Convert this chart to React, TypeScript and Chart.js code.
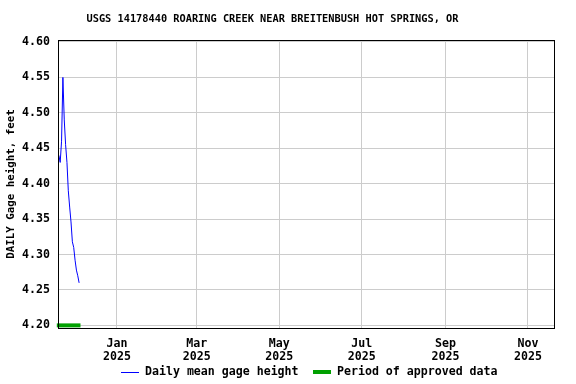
import React, { useEffect, useRef } from "react";
import { Chart, registerables } from "chart.js";

Chart.register(...registerables);

const TITLE = "USGS 14178440 ROARING CREEK NEAR BREITENBUSH HOT SPRINGS, OR";
const Y_TITLE = "DAILY Gage height, feet";
const SERIES_LABEL = "Daily mean gage height";
const APPROVED_LABEL = "Period of approved data";

const dates = [
  "2024-11-19", "2024-11-20", "2024-11-21", "2024-11-22", "2024-11-23", "2024-11-24",
  "2024-11-25", "2024-11-26", "2024-11-27", "2024-11-28", "2024-11-29", "2024-11-30",
  "2024-12-01", "2024-12-02", "2024-12-03", "2024-12-04",
];
const gageHeight = [
  4.44, 4.43, 4.46, 4.55, 4.49, 4.455, 4.43, 4.39, 4.367, 4.346, 4.318, 4.31, 4.292,
  4.278, 4.27, 4.26,
];
const approvedStart = "2024-11-17T12:00";
const approvedEnd = "2024-12-05T00:00";
const approvedLevel = 4.2;

const xTickDates = ["2025-01-01", "2025-03-01", "2025-05-01", "2025-07-01", "2025-09-01", "2025-11-01"];
const xTickLabels = [["Jan", "2025"], ["Mar", "2025"], ["May", "2025"], ["Jul", "2025"], ["Sep", "2025"], ["Nov", "2025"]];
const yTicks = [4.2, 4.25, 4.3, 4.35, 4.4, 4.45, 4.5, 4.55, 4.6];
const xMin = "2024-11-18T09:00";
const xMax = "2025-11-20T06:00";
const yMin = 4.1963;
const yMax = 4.6028;

const t = (s: string) => new Date(s.length === 10 ? s + "T00:00:00Z" : s + ":00Z").getTime();

const FONT = "'DejaVu Sans Mono', monospace";

export default function App() {
  const ref = useRef<HTMLCanvasElement>(null);
  useEffect(() => {
    if (!ref.current) return;
    const framePlugin = {
      id: "frameAndText",
      afterDraw(chart: any) {
        const { ctx, chartArea } = chart;
        ctx.save();
        ctx.strokeStyle = "#000";
        ctx.lineWidth = 1;
        ctx.strokeRect(
          Math.round(chartArea.left) + 0.5,
          Math.round(chartArea.top) + 0.5,
          Math.round(chartArea.right - chartArea.left),
          Math.round(chartArea.bottom - chartArea.top)
        );
        ctx.fillStyle = "#000";
        ctx.textBaseline = "middle";
        ctx.textAlign = "center";
        ctx.font = `bold 10.3px ${FONT}`;
        ctx.fillText(TITLE, 272.5, 19);
        ctx.save();
        ctx.translate(11, 184);
        ctx.rotate(-Math.PI / 2);
        ctx.font = `bold 10.8px ${FONT}`;
        ctx.fillText(Y_TITLE, 0, 0);
        ctx.restore();
        // legend
        ctx.strokeStyle = "#0000ff";
        ctx.lineWidth = 1;
        ctx.beginPath();
        ctx.moveTo(121, 372.5);
        ctx.lineTo(139, 372.5);
        ctx.stroke();
        ctx.fillStyle = "#00a000";
        ctx.fillRect(313, 370, 18, 4);
        ctx.fillStyle = "#000";
        ctx.textAlign = "left";
        ctx.font = `bold 11.6px ${FONT}`;
        ctx.fillText(SERIES_LABEL, 145, 372);
        ctx.fillText(APPROVED_LABEL, 337, 372);
        ctx.restore();
      },
    };
    const chart = new Chart(ref.current, {
      type: "line",
      data: {
        datasets: [
          {
            label: SERIES_LABEL,
            data: dates.map((d, i) => ({ x: t(d), y: gageHeight[i] })),
            borderColor: "#0000ff",
            borderWidth: 1,
            pointRadius: 0,
            tension: 0,
          },
          {
            label: APPROVED_LABEL,
            data: [
              { x: t(approvedStart), y: approvedLevel },
              { x: t(approvedEnd), y: approvedLevel },
            ],
            borderColor: "#00a000",
            borderWidth: 4,
            borderCapStyle: "butt",
            pointRadius: 0,
            clip: false as any,
          },
        ],
      },
      plugins: [framePlugin],
      options: {
        animation: false,
        responsive: false,
        maintainAspectRatio: false,
        layout: { padding: { left: 0, right: 22, top: 40, bottom: 0 } },
        plugins: { legend: { display: false }, title: { display: false }, tooltip: { enabled: false } },
        scales: {
          x: {
            type: "linear",
            min: t(xMin),
            max: t(xMax),
            afterBuildTicks: (s: any) => {
              s.ticks = xTickDates.map((d) => ({ value: t(d) }));
            },
            afterFit: (s: any) => {
              s.height = 56;
            },
            grid: { color: "#cccccc", lineWidth: 1, drawTicks: false },
            border: { display: false },
            ticks: {
              autoSkip: false,
              maxRotation: 0,
              padding: 9,
              color: "#000",
              font: { family: FONT, size: 11.6, weight: "bold", lineHeight: 1.12 },
              callback: (v: any) => {
                const i = xTickDates.findIndex((d) => t(d) === v);
                return i >= 0 ? xTickLabels[i] : "";
              },
            },
          },
          y: {
            type: "linear",
            min: yMin,
            max: yMax,
            afterBuildTicks: (s: any) => {
              s.ticks = yTicks.map((v) => ({ value: v }));
            },
            afterFit: (s: any) => {
              s.width = 58;
            },
            grid: { color: "#cccccc", lineWidth: 1, drawTicks: false },
            border: { display: false },
            ticks: {
              padding: 8,
              color: "#000",
              font: { family: FONT, size: 11.6, weight: "bold" },
              callback: (v: any) => Number(v).toFixed(2),
            },
          },
        },
      } as any,
    });
    return () => chart.destroy();
  }, []);
  return (
    <div style={{ position: "absolute", left: 0, top: 0, width: 576, height: 384, background: "#fff" }}>
      <canvas ref={ref} width={576} height={384} style={{ width: 576, height: 384 }} />
    </div>
  );
}
